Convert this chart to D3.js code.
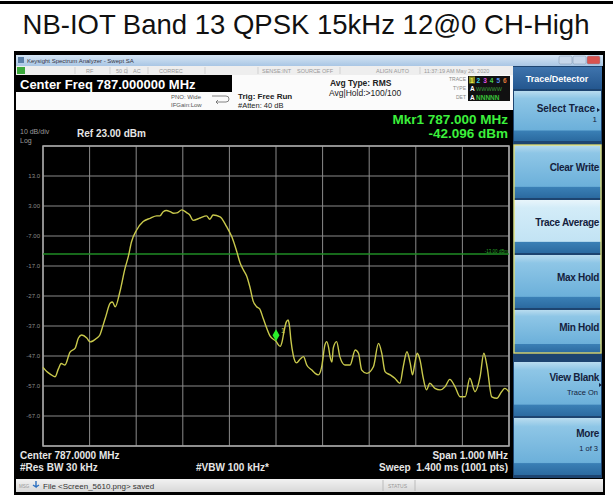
<!DOCTYPE html>
<html>
<head>
<meta charset="utf-8">
<script src="https://cdn.jsdelivr.net/npm/d3@7"></script>
<style>
  html, body { margin: 0; padding: 0; background: #fff; }
  svg { display: block; }
  text { font-family: "Liberation Sans", Arial, sans-serif; }
</style>
</head>
<body>
<svg id="chart" width="613" height="500"></svg>
<script>
// Trace 1 (RMS average) — offset from center in kHz and level in dBm
const freqOffsetKHz = [
  -500, -492, -483, -474, -467, -461, -453, -442, -431, -424, -417, -406, -399, -393, -385, -378,
  -371, -365, -356, -351, -345, -335, -324, -317, -310, -299, -285, -270, -256, -249, -242, -235,
  -227, -220, -213, -202, -192, -185, -178, -163, -149, -142, -135, -120, -106, -95, -84, -77,
  -70, -63, -56, -49, -42, -35, -27, -20, -13, 0, 9, 13, 17, 22, 26, 29, 32, 37, 44, 52, 59, 66,
  77, 84, 91, 98, 105, 109, 113, 116, 120, 123, 130, 137, 148, 159, 170, 177, 184, 195, 209, 220,
  227, 234, 245, 255, 266, 273, 281, 288, 293, 298, 303, 309, 316, 323, 330, 341, 352, 363, 373,
  384, 395, 406, 416, 427, 438, 446, 453, 463, 474, 484, 491, 500
];
const levelDbm = [
  -50.8, -52.2, -53.2, -53.9, -51.3, -49.5, -50.0, -45.7, -44.4, -41.0, -40.0, -41.0, -42.3, -42.0, -41.1, -40.0,
  -36.7, -33.7, -29.4, -29.0, -30.6, -25.6, -17.8, -13.9, -8.9, -5.0, -2.2, -1.1, -0.3, -0.3, 1.1, 1.5,
  1.1, 0.6, 0.7, 1.7, 0.8, 0.0, -1.8, -1.0, -0.3, -1.4, 0.0, -0.6, -3.9, -7.2, -12.3, -16.0,
  -18.3, -20.3, -24.0, -28.7, -30.5, -31.3, -34.7, -37.7, -40.3, -42.096, -43.8, -42.3, -39.0, -35.7, -35.0, -37.0, -41.7, -46.7, -49.3, -48.0, -47.2, -50.0,
  -51.7, -52.8, -53.3, -50.6, -43.3, -42.2, -44.3, -47.2, -49.0, -44.3, -42.2, -47.2, -50.0, -50.0, -45.0, -46.1, -51.7, -52.8, -50.6, -42.8,
  -46.1, -52.2, -53.3, -54.4, -56.1, -50.6, -45.6, -49.4, -53.3, -49.4, -46.1, -48.3, -54.4, -58.3, -56.1, -57.8, -58.3, -57.2, -54.8,
  -57.2, -60.6, -60.6, -54.4, -58.9, -53.9, -46.1, -50.6, -60.6, -61.1, -58.9, -57.8, -59.0
];

// Axis settings
const centerMHz = 787.0;
const spanMHz = 1.0;
const refLevel = 23;
const dbPerDiv = 10;
const yTickValues = [13, 3, -7, -17, -27, -37, -47, -57, -67];
const yTickLabels = ["13.0", "3.00", "-7.00", "-17.0", "-27.0", "-37.0", "-47.0", "-57.0", "-67.0"];
const displayLineDbm = -13;
const markerFreqMHz = 787.0;
const markerDbm = -42.096;

// Softkey menu
const softkeys = [
  { label: "Clear Write", sub: "", y0: 145, y1: 198, active: false },
  { label: "Trace Average", sub: "", y0: 200, y1: 253, active: true },
  { label: "Max Hold", sub: "", y0: 255, y1: 308, active: false },
  { label: "Min Hold", sub: "", y0: 310, y1: 353, active: false },
  { label: "View Blank", sub: "Trace On", y0: 362, y1: 416, active: false, arrow: true },
  { label: "More", sub: "1 of 3", y0: 418, y1: 475, active: false }
];

const svg = d3.select("#chart");

// Page title
svg.append("rect").attr("x", 0).attr("y", 1).attr("width", 613).attr("height", 3).attr("fill", "#000");
svg.append("text").attr("x", 306).attr("y", 34).attr("text-anchor", "middle")
  .attr("font-size", 27.5).attr("fill", "#111").text("NB-IOT Band 13 QPSK 15kHz 12@0 CH-High");

// Gradients
const defs = svg.append("defs");
function grad(id, stops) {
  const gr = defs.append("linearGradient").attr("id", id).attr("x1", 0).attr("y1", 0).attr("x2", 0).attr("y2", 1);
  stops.forEach(([o, c]) => gr.append("stop").attr("offset", o).attr("stop-color", c));
}
grad("titlebar", [[0, "#d6e6f5"], [1, "#a9c6e4"]]);
grad("btn", [[0, "#b9dcef"], [0.15, "#8ec6e6"], [0.78, "#6cb0da"], [0.8, "#3a7fb5"], [1, "#2b6aa0"]]);
grad("btnActive", [[0, "#e8f5fb"], [0.15, "#d3ecf8"], [0.78, "#c2e3f4"], [0.8, "#3a7fb5"], [1, "#2b6aa0"]]);
grad("hdr", [[0, "#3f74ad"], [1, "#24578f"]]);
grad("statusbar", [[0, "#f2f2f2"], [1, "#d8d8d8"]]);

const g = svg.append("g");

// Window frame
g.append("rect").attr("x", 14).attr("y", 51).attr("width", 591).attr("height", 444).attr("fill", "#000");
g.append("rect").attr("x", 16).attr("y", 55).attr("width", 587).attr("height", 11).attr("fill", "url(#titlebar)");
g.append("rect").attr("x", 18).attr("y", 57).attr("width", 6).attr("height", 6).attr("fill", "#5a7fa8");
g.append("text").attr("x", 27).attr("y", 63).attr("font-size", 6).attr("fill", "#334").text("Keysight Spectrum Analyzer - Swept SA");
[[559, "#c7d7ea"], [573, "#c7d7ea"], [587, "#d9534f"]].forEach(([wx, c]) => {
  g.append("rect").attr("x", wx).attr("y", 56).attr("width", 13).attr("height", 8).attr("rx", 1.5)
    .attr("fill", c).attr("stroke", "#7d93ad").attr("stroke-width", 0.5);
});

// Instrument status row
g.append("rect").attr("x", 16).attr("y", 66).attr("width", 497).attr("height", 9).attr("fill", "#eeeeee");
g.append("rect").attr("x", 17).attr("y", 67).attr("width", 8).attr("height", 7).attr("fill", "#3aa83a");
const statusItems = [[86, "RF"], [116, "50 Ω"], [133, "AC"], [159, "CORREC"], [262, "SENSE:INT"], [297, "SOURCE OFF"], [376, "ALIGN AUTO"], [424, "11:37:19 AM May 26, 2020"]];
statusItems.forEach(([sx, t]) => g.append("text").attr("x", sx).attr("y", 73).attr("font-size", 5.5).attr("fill", "#999").text(t));
[75, 110, 127, 148, 205, 258, 340, 420].forEach(lx =>
  g.append("line").attr("x1", lx).attr("x2", lx).attr("y1", 67).attr("y2", 74).attr("stroke", "#c4c4c4").attr("stroke-width", 0.7));

// Settings panel
g.append("rect").attr("x", 16).attr("y", 75).attr("width", 497).attr("height", 35).attr("fill", "#fbfbfb");
g.append("rect").attr("x", 16).attr("y", 75).attr("width", 216).attr("height", 17).attr("fill", "#000");
g.append("text").attr("x", 20).attr("y", 89).attr("font-size", 13).attr("font-weight", "bold").attr("fill", "#fff")
  .text("Center Freq 787.000000 MHz");
g.append("text").attr("x", 171).attr("y", 99).attr("font-size", 6).attr("fill", "#555").text("PNO: Wide");
g.append("text").attr("x", 171).attr("y", 107).attr("font-size", 6).attr("fill", "#555").text("IFGain:Low");
g.append("path").attr("d", "M212,96 h14 a3,3 0 0 1 0,6 h-10 m2,-2 l-2,2 l2,2").attr("fill", "none").attr("stroke", "#666").attr("stroke-width", 0.8);
g.append("text").attr("x", 238).attr("y", 99).attr("font-size", 8).attr("font-weight", "bold").attr("fill", "#222").text("Trig: Free Run");
g.append("text").attr("x", 238).attr("y", 108).attr("font-size", 7.5).attr("fill", "#222").text("#Atten: 40 dB");
g.append("text").attr("x", 330).attr("y", 86).attr("font-size", 8.5).attr("font-weight", "bold").attr("fill", "#222").text("Avg Type: RMS");
g.append("text").attr("x", 329).attr("y", 96).attr("font-size", 8.5).attr("fill", "#222").text("Avg|Hold:>100/100");

// Trace status table
[["TRACE", 81], ["TYPE", 90], ["DET", 99]].forEach(([t, ty]) =>
  g.append("text").attr("x", 466).attr("y", ty).attr("text-anchor", "end").attr("font-size", 5).attr("fill", "#888").text(t));
g.append("rect").attr("x", 468).attr("y", 76).attr("width", 42).attr("height", 25).attr("fill", "#111");
const traceColors = ["#e8e84a", "#3ad0e8", "#e050e0", "#4ad04a", "#5a8ff0", "#e07a3a"];
traceColors.forEach((c, i) => {
  if (i === 0) g.append("rect").attr("x", 469).attr("y", 76.5).attr("width", 6).attr("height", 7).attr("fill", "#8a8a20");
  g.append("text").attr("x", 470 + i * 6.6).attr("y", 82.5).attr("font-size", 6.5).attr("font-weight", "bold").attr("fill", c).text(i + 1);
});
g.append("text").attr("x", 470).attr("y", 91).attr("font-size", 6.5).attr("font-weight", "bold").attr("fill", "#fff").text("A");
g.append("text").attr("x", 476).attr("y", 91).attr("font-size", 5.5).attr("fill", "#3a9a3a").text("WWWWW");
g.append("text").attr("x", 470).attr("y", 99.5).attr("font-size", 6.5).attr("font-weight", "bold").attr("fill", "#fff").text("A");
g.append("text").attr("x", 476).attr("y", 99.5).attr("font-size", 6.5).attr("font-weight", "bold").attr("fill", "#3ac03a").text("NNNNN");

// Scales
const x = d3.scaleLinear().domain([centerMHz - spanMHz / 2, centerMHz + spanMHz / 2]).range([43, 509]);
const y = d3.scaleLinear().domain([refLevel - 10 * dbPerDiv, refLevel]).range([446, 146]);

// Marker readout and scale labels
g.append("text").attr("x", 508).attr("y", 124).attr("text-anchor", "end").attr("font-size", 13.5).attr("font-weight", "bold")
  .attr("fill", "#3cf03c").text("Mkr1 787.000 MHz");
g.append("text").attr("x", 508).attr("y", 137.5).attr("text-anchor", "end").attr("font-size", 13.5).attr("font-weight", "bold")
  .attr("fill", "#3cf03c").text(markerDbm.toFixed(3) + " dBm");
g.append("text").attr("x", 20).attr("y", 134).attr("font-size", 7).attr("fill", "#9a9a9a").text("10 dB/div");
g.append("text").attr("x", 20).attr("y", 143).attr("font-size", 7).attr("fill", "#9a9a9a").text("Log");
g.append("text").attr("x", 77).attr("y", 137).attr("font-size", 10).attr("font-weight", "bold").attr("fill", "#e6e6e6").text("Ref 23.00 dBm");

// Graticule
const grid = g.append("g");
const xTicks = d3.range(11).map(i => centerMHz - spanMHz / 2 + i * spanMHz / 10);
const yTicks = d3.range(11).map(i => refLevel - i * dbPerDiv);
grid.selectAll(".vx").data(xTicks).join("line")
  .attr("x1", d => x(d)).attr("x2", d => x(d)).attr("y1", y.range()[1]).attr("y2", y.range()[0])
  .attr("stroke", "#8a8a8a").attr("stroke-width", 1);
grid.selectAll(".hy").data(yTicks).join("line")
  .attr("x1", x.range()[0]).attr("x2", x.range()[1]).attr("y1", d => y(d)).attr("y2", d => y(d))
  .attr("stroke", "#8a8a8a").attr("stroke-width", 1);
grid.append("rect").attr("x", x.range()[0]).attr("y", y.range()[1]).attr("width", x.range()[1] - x.range()[0])
  .attr("height", y.range()[0] - y.range()[1]).attr("fill", "none").attr("stroke", "#a8a8a8").attr("stroke-width", 1.5);

// Y tick labels
g.selectAll(".ylab").data(yTickValues).join("text")
  .attr("x", 40).attr("y", d => y(d) + 2).attr("text-anchor", "end")
  .attr("font-size", 6).attr("fill", "#8a8a8a").text((d, i) => yTickLabels[i]);

// Display line
g.append("line").attr("x1", x.range()[0]).attr("x2", x.range()[1]).attr("y1", y(displayLineDbm)).attr("y2", y(displayLineDbm))
  .attr("stroke", "#1f8c24").attr("stroke-width", 1.3);
g.append("text").attr("x", 508).attr("y", y(displayLineDbm) - 1.5).attr("text-anchor", "end")
  .attr("font-size", 4.5).attr("fill", "#2aa02a").text("-13.00 dBm");

// Trace
const trace = freqOffsetKHz.map((f, i) => [centerMHz + f / 1000, levelDbm[i]]);
g.append("path").datum(trace)
  .attr("d", d3.line().x(d => x(d[0])).y(d => y(d[1])).curve(d3.curveMonotoneX))
  .attr("fill", "none").attr("stroke", "#c9c94c").attr("stroke-width", 1.4);

// Marker
const mx = x(markerFreqMHz), my = y(markerDbm) - 6;
g.append("path").attr("d", `M${mx},${my - 6} L${mx + 3.5},${my} L${mx},${my + 6} L${mx - 3.5},${my} Z`).attr("fill", "#2af02a");
g.append("text").attr("x", mx + 5).attr("y", my - 2).attr("font-size", 7).attr("fill", "#cfcf50").text("1");

// Bottom annotations
const bottom = [
  [20, 459, "start", "Center 787.0000 MHz"],
  [20, 471, "start", "#Res BW 30 kHz"],
  [196, 471, "start", "#VBW 100 kHz*"],
  [508, 459, "end", "Span 1.000 MHz"],
  [508, 471, "end", "Sweep  1.400 ms (1001 pts)"]
];
bottom.forEach(([bx, by, a, t]) => g.append("text").attr("x", bx).attr("y", by).attr("text-anchor", a)
  .attr("font-size", 10).attr("font-weight", "bold").attr("fill", "#e6e6e6").attr("xml:space", "preserve").text(t));

// Message bar
g.append("rect").attr("x", 16).attr("y", 479).attr("width", 587).attr("height", 13).attr("fill", "url(#statusbar)");
g.append("text").attr("x", 19).attr("y", 488).attr("font-size", 4.5).attr("fill", "#999").text("MSG");
g.append("path").attr("d", "M36,481 v6 l-3,-2 M36,487 l3,-2").attr("stroke", "#2b6fc0").attr("stroke-width", 1.4).attr("fill", "none");
g.append("text").attr("x", 43).attr("y", 489).attr("font-size", 8).attr("fill", "#333").text("File <Screen_5610.png> saved");
g.append("line").attr("x1", 383).attr("x2", 383).attr("y1", 480).attr("y2", 491).attr("stroke", "#bbb");
g.append("text").attr("x", 388).attr("y", 488).attr("font-size", 5).attr("fill", "#999").text("STATUS");
g.append("line").attr("x1", 415).attr("x2", 415).attr("y1", 480).attr("y2", 491).attr("stroke", "#bbb");

// Softkey panel
g.append("rect").attr("x", 513).attr("y", 66).attr("width", 89).attr("height", 412).attr("fill", "#1d4470");
g.append("rect").attr("x", 513).attr("y", 67).attr("width", 89).attr("height", 22).attr("fill", "url(#hdr)");
g.append("text").attr("x", 557).attr("y", 82).attr("text-anchor", "middle").attr("font-size", 9).attr("font-weight", "bold")
  .attr("fill", "#fff").text("Trace/Detector");
g.append("rect").attr("x", 514).attr("y", 91).attr("width", 87).attr("height", 50).attr("fill", "url(#btn)");
g.append("text").attr("x", 595).attr("y", 112).attr("text-anchor", "end").attr("font-size", 10).attr("font-weight", "bold")
  .attr("fill", "#14213d").text("Select Trace");
g.append("path").attr("d", "M597,108 l3,2 l-3,2 Z").attr("fill", "#14213d");
g.append("text").attr("x", 597).attr("y", 122).attr("text-anchor", "end").attr("font-size", 8).attr("fill", "#14213d").text("1");

softkeys.forEach(k => {
  g.append("rect").attr("x", 514).attr("y", k.y0).attr("width", 87).attr("height", k.y1 - k.y0)
    .attr("fill", k.active ? "url(#btnActive)" : "url(#btn)");
  const hasSub = k.sub !== "";
  const ty = hasSub ? k.y0 + 19 : (k.y0 + k.y1) / 2 - 1;
  g.append("text").attr("x", 599).attr("y", ty).attr("text-anchor", "end").attr("font-size", 10).attr("font-weight", "bold")
    .attr("fill", "#14213d").attr("letter-spacing", -0.3).text(k.label);
  if (hasSub) g.append("text").attr("x", 598).attr("y", ty + 14).attr("text-anchor", "end").attr("font-size", 7.5)
    .attr("fill", "#14213d").text(k.sub);
  if (k.arrow) g.append("path").attr("d", `M599,${ty + 2} l3,2 l-3,2 Z`).attr("fill", "#14213d");
});
g.append("rect").attr("x", 514).attr("y", 145).attr("width", 87).attr("height", 208).attr("fill", "none")
  .attr("stroke", "#e6df6a").attr("stroke-width", 1.3);
</script>
</body>
</html>
